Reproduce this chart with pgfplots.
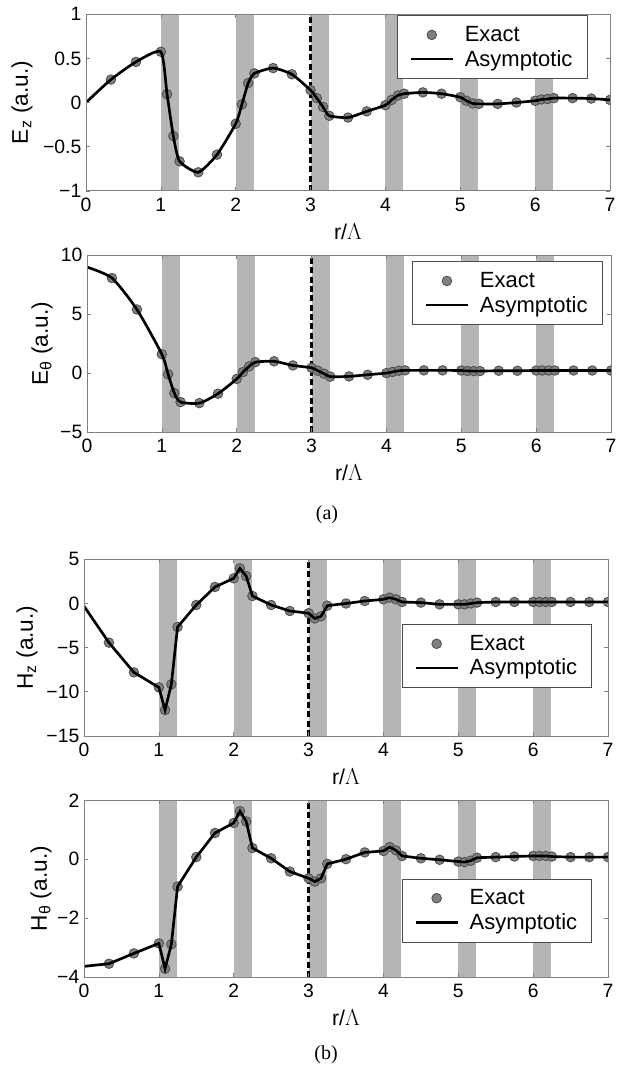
\documentclass[border=0pt]{standalone}
\usepackage{fontspec}
\setmainfont{Liberation Sans}
\newfontfamily\capfont{Liberation Serif}
\usepackage{pgfplots}
\usepackage{pgfplotstable}
\pgfplotsset{compat=1.18}
\definecolor{bandgray}{gray}{0.71}
\definecolor{markfill}{gray}{0.50}
\definecolor{markdraw}{gray}{0.30}
\definecolor{framegray}{gray}{0.50}

\pgfplotstableread{
r v
0 0
0.333 0.26
0.667 0.46
1 0.575
1.083 0.094
1.167 -0.38
1.25 -0.665
1.5 -0.79
1.75 -0.59
2 -0.24
2.083 -0.02
2.167 0.22
2.25 0.33
2.5 0.39
2.75 0.32
3 0.14
3.083 0.05
3.167 -0.05
3.25 -0.15
3.5 -0.17
3.75 -0.10
4 -0.03
4.083 0.03
4.167 0.08
4.25 0.10
4.5 0.115
4.75 0.10
5 0.06
5.083 0.02
5.167 -0.01
5.25 -0.015
5.5 -0.015
5.75 0.0
6 0.02
6.083 0.035
6.167 0.04
6.25 0.05
6.5 0.05
6.75 0.045
7 0.03
}\Ez

\pgfplotstableread{
r v
0 9.0
0.333 8.07
0.667 5.4
1 1.6
1.083 -0.1
1.167 -1.7
1.25 -2.46
1.5 -2.55
1.75 -1.75
2 -0.5
2.083 0.08
2.167 0.57
2.25 0.93
2.5 1.0
2.75 0.65
3 0.45
3.083 0.2
3.167 -0.05
3.25 -0.3
3.5 -0.28
3.75 -0.14
4 0.0
4.083 0.1
4.167 0.2
4.25 0.23
4.5 0.23
4.75 0.23
5 0.22
5.083 0.18
5.167 0.17
5.25 0.17
5.5 0.2
5.75 0.2
6 0.22
6.083 0.22
6.167 0.22
6.25 0.22
6.5 0.22
6.75 0.22
7 0.22
}\Et

\pgfplotstableread{
r v
0 -0.3
0.333 -4.43
0.667 -7.8
1 -9.5
1.083 -12.06
1.167 -9.15
1.25 -2.66
1.5 -0.17
1.75 1.87
2 2.85
2.083 3.98
2.167 3.1
2.25 0.85
2.5 -0.17
2.75 -0.85
3 -1.1
3.083 -1.7
3.167 -1.45
3.25 -0.25
3.5 0.0
3.75 0.28
4 0.47
4.083 0.66
4.167 0.47
4.25 0.17
4.5 0.1
4.75 -0.1
5 -0.1
5.083 -0.1
5.167 0.0
5.25 0.1
5.5 0.17
5.75 0.17
6 0.17
6.083 0.17
6.167 0.17
6.25 0.17
6.5 0.17
6.75 0.17
7 0.17
}\Hz

\pgfplotstableread{
r v
0 -3.64
0.333 -3.55
0.667 -3.2
1 -2.86
1.083 -3.72
1.167 -2.89
1.25 -0.93
1.5 0.07
1.75 0.89
2 1.23
2.083 1.63
2.167 1.28
2.25 0.38
2.5 0.03
2.75 -0.42
3 -0.65
3.083 -0.76
3.167 -0.65
3.25 -0.16
3.5 0.0
3.75 0.23
4 0.28
4.083 0.41
4.167 0.3
4.25 0.11
4.5 0.03
4.75 -0.02
5 -0.08
5.083 -0.1
5.167 -0.05
5.25 0.05
5.5 0.07
5.75 0.09
6 0.11
6.083 0.11
6.167 0.11
6.25 0.09
6.5 0.07
6.75 0.07
7 0.07
}\Ht

\pgfplotsset{
  panel/.style={
    scale only axis, width=393pt, height=132.5pt, anchor=south west,
    xmin=0, xmax=7, xtick={0,1,2,3,4,5,6,7},
    xticklabels={0,1,2,3,4,5,6,7},
    axis on top, clip marker paths=true,
    axis line style={framegray, line width=0.6pt},
    tick style={framegray, line width=0.5pt},
    tick align=inside, major tick length=3pt,
    ticklabel style={font=\fontsize{14.5}{16}\selectfont},
    xticklabel style={yshift=-2pt},
    xlabel={r/$\Lambda$},
    xlabel style={at={(axis description cs:0.5,-0.232)}, anchor=center, font=\fontsize{16}{18}\selectfont},
    ylabel style={anchor=center, font=\fontsize{17}{19}\selectfont},
    legend style={anchor=north east, draw=black!70, line width=0.6pt, fill=white,
      font=\fontsize{16.5}{18}\selectfont, inner xsep=9pt, inner ysep=6pt, row sep=1pt,
      /tikz/every odd column/.append style={column sep=6pt}},
    legend cell align=left,
  },
  exact/.style={only marks, mark=*, mark size=3.6pt,
    mark options={fill=markfill, draw=markdraw, line width=0.6pt},
    legend image code/.code={\draw[##1] plot coordinates {(15.75pt,0pt)};}},
  asym/.style={black, line width=2pt, no markers,
    legend image code/.code={\draw[##1] (0pt,0pt) -- (31.5pt,0pt);}},
  bands/.style={fill=bandgray, draw=none, forget plot},
  dline/.style={black, line width=2pt, dash pattern=on 4.5pt off 2.5pt, forget plot},
}

\begin{document}
\begin{tikzpicture}
\useasboundingbox (0,0) rectangle (471.75pt,802.5pt);

% Panel 1: E_z
\begin{axis}[panel, at={(64.5pt,659.25pt)},
  ymin=-1, ymax=1, ytick={-1,-0.5,0,0.5,1}, yticklabels={−1,−0.5,0,0.5,1},
  ylabel={E\textsubscript{z} (a.u.)},
  ylabel style={at={(axis description cs:-0.122,0.5)}},
  legend style={at={(axis description cs:0.957,0.994)}}]
\pgfplotsinvokeforeach{1,2,3,4,5,6}{\addplot[bands] coordinates {(#1,-100) (#1+0.24,-100) (#1+0.24,100) (#1,100)} -- cycle;}
\addplot[dline] coordinates {(3,-1) (3,1)};
\addplot[exact, skip coords between index={0}{1}] table[x=r,y=v] {\Ez};
\addplot[asym, smooth, tension=0.35] table[x=r,y=v] {\Ez};
\legend{Exact, Asymptotic}
\end{axis}

% Panel 2: E_theta
\begin{axis}[panel, at={(65.25pt,478.5pt)},
  ymin=-5, ymax=10, ytick={-5,0,5,10}, yticklabels={−5,0,5,10},
  ylabel={E\textsubscript{θ} (a.u.)},
  ylabel style={at={(axis description cs:-0.086,0.5)}},
  legend style={at={(axis description cs:0.984,0.966)}}]
\pgfplotsinvokeforeach{1,2,3,4,5,6}{\addplot[bands] coordinates {(#1,-100) (#1+0.24,-100) (#1+0.24,100) (#1,100)} -- cycle;}
\addplot[dline] coordinates {(3,-5) (3,10)};
\addplot[exact, skip coords between index={0}{1}] table[x=r,y=v] {\Et};
\addplot[asym, smooth, tension=0.4] table[x=r,y=v] {\Et};
\legend{Exact, Asymptotic}
\end{axis}

\node[font=\capfont\fontsize{15}{18}\selectfont] at (245.25pt,416.25pt) {(a)};

% Panel 3: H_z
\begin{axis}[panel, at={(63pt,250.5pt)},
  ymin=-15, ymax=5, ytick={-15,-10,-5,0,5}, yticklabels={−15,−10,−5,0,5},
  ylabel={H\textsubscript{z} (a.u.)},
  ylabel style={at={(axis description cs:-0.109,0.5)}},
  legend style={at={(axis description cs:0.970,0.633)}}]
\pgfplotsinvokeforeach{1,2,3,4,5,6}{\addplot[bands] coordinates {(#1,-100) (#1+0.24,-100) (#1+0.24,100) (#1,100)} -- cycle;}
\addplot[dline] coordinates {(3,-15) (3,5)};
\addplot[exact, skip coords between index={0}{1}] table[x=r,y=v] {\Hz};
\addplot[asym] table[x=r,y=v] {\Hz};
\legend{Exact, Asymptotic}
\end{axis}

% Panel 4: H_theta
\begin{axis}[panel, at={(63pt,69.75pt)},
  ymin=-4, ymax=2, ytick={-4,-2,0,2}, yticklabels={−4,−2,0,2},
  ylabel={H\textsubscript{θ} (a.u.)},
  ylabel style={at={(axis description cs:-0.082,0.5)}},
  legend style={at={(axis description cs:0.970,0.557)}}]
\pgfplotsinvokeforeach{1,2,3,4,5,6}{\addplot[bands] coordinates {(#1,-100) (#1+0.24,-100) (#1+0.24,100) (#1,100)} -- cycle;}
\addplot[dline] coordinates {(3,-4) (3,2)};
\addplot[exact, skip coords between index={0}{1}] table[x=r,y=v] {\Ht};
\addplot[asym] table[x=r,y=v] {\Ht};
\legend{Exact, Asymptotic}
\end{axis}

\node[font=\capfont\fontsize{15}{18}\selectfont] at (244.5pt,11.25pt) {(b)};
\end{tikzpicture}
\end{document}
